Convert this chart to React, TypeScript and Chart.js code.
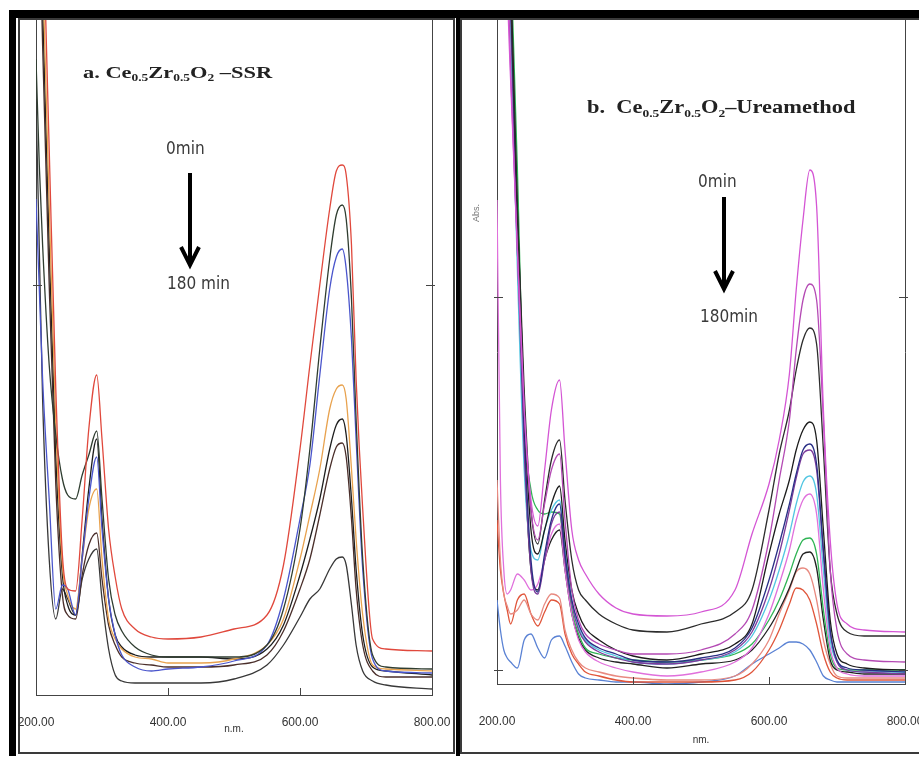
import React, { useEffect, useRef } from 'react';
import { Chart, registerables } from 'chart.js';

Chart.register(...registerables);

// ---------- Panel a : Ce0.5Zr0.5O2 – SSR ----------
const WL_A = [200, 205, 210, 220, 230, 240, 248, 260, 270, 280, 292, 300, 310, 320, 330, 350, 375, 400, 450, 500, 550, 575, 600, 615, 630, 645, 655, 664, 670, 678, 685, 695, 710, 730, 800];

const A_RED = [5.43, 4.68, 3.93, 2.68, 1.48, 0.65, 0.48, 0.47, 0.83, 1.28, 1.55, 1.23, 0.78, 0.54, 0.38, 0.28, 0.24, 0.23, 0.24, 0.28, 0.35, 0.60, 1.18, 1.60, 2.00, 2.38, 2.57, 2.60, 2.55, 2.20, 1.53, 0.88, 0.23, 0.18, 0.17];
const A_DKGREEN = [3.13, 2.60, 2.20, 1.60, 1.25, 1.03, 0.95, 0.93, 1.05, 1.15, 1.27, 0.93, 0.53, 0.35, 0.27, 0.19, 0.15, 0.14, 0.14, 0.14, 0.20, 0.38, 0.78, 1.18, 1.68, 2.13, 2.35, 2.40, 2.33, 1.93, 1.33, 0.63, 0.15, 0.09, 0.08];
const A_BLUE = [2.43, 1.98, 1.53, 0.93, 0.38, 0.50, 0.48, 0.35, 0.63, 0.93, 1.14, 0.78, 0.43, 0.25, 0.15, 0.09, 0.07, 0.08, 0.09, 0.12, 0.20, 0.43, 0.83, 1.10, 1.55, 1.98, 2.14, 2.18, 2.08, 1.73, 1.23, 0.58, 0.13, 0.07, 0.06];
const A_ORANGE = [5.00, 4.30, 3.60, 2.40, 1.30, 0.60, 0.45, 0.38, 0.63, 0.88, 0.98, 0.63, 0.33, 0.23, 0.18, 0.14, 0.13, 0.11, 0.11, 0.13, 0.20, 0.33, 0.63, 0.85, 1.08, 1.38, 1.48, 1.50, 1.43, 1.08, 0.73, 0.35, 0.10, 0.08, 0.07];
const A_BLACK1 = [4.80, 4.10, 3.40, 2.20, 1.15, 0.55, 0.40, 0.35, 0.65, 0.98, 1.23, 0.83, 0.43, 0.25, 0.19, 0.15, 0.14, 0.14, 0.14, 0.13, 0.18, 0.30, 0.55, 0.73, 0.93, 1.18, 1.30, 1.33, 1.25, 0.93, 0.58, 0.25, 0.09, 0.07, 0.05];
const A_BLACK2 = [4.60, 3.90, 3.20, 2.00, 1.00, 0.45, 0.35, 0.33, 0.55, 0.70, 0.76, 0.53, 0.30, 0.20, 0.14, 0.11, 0.10, 0.09, 0.09, 0.10, 0.15, 0.27, 0.48, 0.63, 0.85, 1.08, 1.19, 1.21, 1.14, 0.83, 0.48, 0.20, 0.07, 0.04, 0.04];
const A_180MIN = [2.93, 2.18, 1.43, 0.63, 0.33, 0.48, 0.43, 0.35, 0.53, 0.63, 0.68, 0.43, 0.18, 0.05, 0.02, 0.01, 0.01, 0.01, 0.01, 0.03, 0.10, 0.20, 0.34, 0.43, 0.48, 0.58, 0.63, 0.64, 0.60, 0.40, 0.20, 0.07, 0.02, 0.00, -0.02];

const A_SERIES = [A_RED, A_DKGREEN, A_BLUE, A_ORANGE, A_BLACK1, A_BLACK2, A_180MIN];
const A_COLORS = ['#e0483c', '#2f3d30', '#4a55cc', '#e8a24e', '#1e1e1e', '#4a2e2a', '#383838'];

// ---------- Panel b : Ce0.5Zr0.5O2 – Urea method ----------
const WL_B = [200, 205, 210, 215, 220, 230, 240, 250, 260, 270, 280, 292, 300, 310, 320, 330, 350, 375, 400, 450, 500, 550, 575, 600, 615, 630, 640, 650, 660, 670, 680, 690, 700, 715, 740, 800];

const B_MAGENTA = [6.00, 5.20, 4.30, 3.45, 2.95, 2.10, 1.30, 0.85, 0.72, 1.00, 1.30, 1.45, 1.10, 0.70, 0.55, 0.48, 0.38, 0.31, 0.28, 0.27, 0.29, 0.40, 0.68, 0.93, 1.15, 1.48, 1.90, 2.25, 2.50, 2.32, 1.30, 0.65, 0.33, 0.23, 0.20, 0.19];
const B_PURPLE1 = [5.90, 5.20, 4.40, 3.60, 3.00, 2.10, 1.30, 0.80, 0.65, 0.83, 1.00, 1.08, 0.75, 0.40, 0.25, 0.18, 0.13, 0.10, 0.08, 0.08, 0.10, 0.18, 0.30, 0.65, 0.95, 1.25, 1.60, 1.85, 1.93, 1.85, 1.25, 0.50, 0.20, 0.08, 0.05, 0.04];
const B_DARK1 = [6.00, 5.40, 4.70, 4.00, 3.40, 2.30, 1.40, 0.80, 0.63, 0.85, 1.05, 1.15, 0.85, 0.55, 0.40, 0.35, 0.28, 0.23, 0.20, 0.19, 0.23, 0.29, 0.40, 0.80, 1.08, 1.30, 1.50, 1.65, 1.71, 1.63, 1.10, 0.50, 0.28, 0.19, 0.17, 0.17];
const B_BLACK1 = [6.00, 5.40, 4.80, 4.20, 3.50, 2.30, 1.30, 0.70, 0.58, 0.70, 0.83, 0.92, 0.65, 0.40, 0.28, 0.21, 0.15, 0.10, 0.07, 0.05, 0.08, 0.13, 0.23, 0.58, 0.78, 0.95, 1.10, 1.20, 1.24, 1.15, 0.70, 0.25, 0.08, 0.03, 0.01, 0.00];
const B_NAVY = [5.90, 5.30, 4.70, 4.00, 3.40, 2.20, 1.20, 0.55, 0.39, 0.58, 0.75, 0.83, 0.58, 0.35, 0.23, 0.16, 0.11, 0.08, 0.05, 0.04, 0.06, 0.11, 0.21, 0.45, 0.63, 0.83, 0.98, 1.10, 1.13, 1.03, 0.60, 0.20, 0.05, 0.01, 0.00, -0.01];
const B_PURPLE2 = [5.80, 5.10, 4.50, 3.90, 3.30, 2.10, 1.10, 0.50, 0.38, 0.55, 0.73, 0.79, 0.55, 0.33, 0.20, 0.14, 0.09, 0.06, 0.04, 0.03, 0.05, 0.10, 0.19, 0.40, 0.58, 0.80, 0.96, 1.08, 1.10, 1.00, 0.58, 0.19, 0.04, 0.00, -0.01, -0.02];
const B_CYAN = [5.60, 5.00, 4.40, 3.80, 3.20, 2.00, 1.00, 0.60, 0.55, 0.70, 0.80, 0.85, 0.60, 0.35, 0.21, 0.15, 0.10, 0.07, 0.04, 0.03, 0.05, 0.09, 0.17, 0.35, 0.50, 0.68, 0.83, 0.94, 0.97, 0.88, 0.50, 0.15, 0.04, 0.00, -0.01, -0.01];
const B_PINK = [2.35, 0.95, 0.50, 0.38, 0.40, 0.48, 0.45, 0.40, 0.43, 0.55, 0.68, 0.73, 0.50, 0.28, 0.15, 0.09, 0.04, 0.01, -0.01, -0.03, -0.01, 0.04, 0.11, 0.28, 0.43, 0.60, 0.75, 0.85, 0.88, 0.78, 0.40, 0.11, 0.01, -0.02, -0.03, -0.03];
const B_GREEN = [6.00, 5.40, 4.80, 4.20, 3.60, 2.50, 1.25, 0.90, 0.80, 0.78, 0.79, 0.78, 0.55, 0.30, 0.18, 0.11, 0.08, 0.06, 0.05, 0.04, 0.05, 0.08, 0.13, 0.25, 0.35, 0.48, 0.58, 0.65, 0.66, 0.58, 0.30, 0.08, 0.01, 0.00, 0.00, 0.00];
const B_BLACK2 = [5.80, 5.20, 4.60, 4.00, 3.30, 2.10, 1.10, 0.50, 0.40, 0.55, 0.65, 0.70, 0.50, 0.28, 0.16, 0.10, 0.06, 0.04, 0.03, 0.01, 0.03, 0.05, 0.10, 0.21, 0.30, 0.41, 0.50, 0.58, 0.59, 0.51, 0.25, 0.05, 0.00, -0.01, -0.02, -0.02];
const B_SALMON = [0.95, 0.55, 0.38, 0.32, 0.28, 0.30, 0.35, 0.28, 0.25, 0.33, 0.38, 0.36, 0.20, 0.10, 0.04, 0.01, -0.01, -0.03, -0.04, -0.05, -0.05, -0.03, 0.03, 0.15, 0.28, 0.40, 0.49, 0.51, 0.48, 0.35, 0.15, 0.03, -0.03, -0.04, -0.04, -0.04];
const B_ORANGE = [0.75, 0.50, 0.38, 0.30, 0.23, 0.35, 0.38, 0.28, 0.22, 0.29, 0.35, 0.33, 0.18, 0.08, 0.03, -0.01, -0.03, -0.05, -0.06, -0.06, -0.06, -0.05, -0.01, 0.10, 0.20, 0.33, 0.41, 0.40, 0.35, 0.23, 0.08, -0.01, -0.04, -0.05, -0.05, -0.05];
const B_BLUE = [0.35, 0.20, 0.10, 0.06, 0.04, 0.01, 0.15, 0.18, 0.11, 0.06, 0.15, 0.17, 0.12, 0.04, -0.02, -0.04, -0.05, -0.06, -0.06, -0.07, -0.06, -0.03, 0.03, 0.08, 0.11, 0.14, 0.14, 0.13, 0.10, 0.04, -0.03, -0.05, -0.06, -0.06, -0.06, -0.06];

const B_SERIES = [B_MAGENTA, B_PURPLE1, B_DARK1, B_BLACK1, B_NAVY, B_PURPLE2, B_CYAN, B_PINK, B_GREEN, B_BLACK2, B_SALMON, B_ORANGE, B_BLUE];
const B_COLORS = ['#d455d4', '#b44ab4', '#2c2c2c', '#1c1c1c', '#2a2f86', '#7c3c9c', '#52c6e2', '#e070dc', '#2fb454', '#222222', '#e88a80', '#e0553a', '#5a82d4'];

const X_TICKS = [200, 400, 600, 800];

const tickMarks = {
  id: 'tickMarks',
  afterDraw(chart: any, _args: any, opts: any) {
    const { ctx, chartArea } = chart;
    const xs = chart.scales.x;
    const ys = chart.scales.y;
    ctx.save();
    ctx.strokeStyle = '#444';
    ctx.lineWidth = 1;
    ctx.beginPath();
    for (const v of opts.xTicks) {
      const px = Math.round(xs.getPixelForValue(v)) + 0.5;
      ctx.moveTo(px, chartArea.bottom);
      ctx.lineTo(px, chartArea.bottom - 7);
    }
    for (const v of opts.yTicks) {
      const py = Math.round(ys.getPixelForValue(v)) + 0.5;
      ctx.moveTo(chartArea.left - 3, py);
      ctx.lineTo(chartArea.left + 6, py);
      ctx.moveTo(chartArea.right - 6, py);
      ctx.lineTo(chartArea.right + 3, py);
    }
    ctx.stroke();
    ctx.restore();
  },
};

function makeConfig(p: any): any {
  const datasets = p.series.map((vals: number[], i: number) => ({
    data: p.wl.map((x: number, j: number) => ({ x, y: vals[j] })),
    borderColor: p.colors[i],
    borderWidth: 1.3,
    pointRadius: 0,
    cubicInterpolationMode: 'monotone',
    fill: false,
  }));
  const yBase = {
    type: 'linear',
    min: p.yMin,
    max: p.yMax,
    ticks: { display: false },
    grid: { display: false },
    border: { display: true, color: '#444', width: 1 },
    afterFit: (s: any) => { s.width = 0; },
  };
  return {
    type: 'line',
    data: { datasets },
    plugins: [tickMarks],
    options: {
      responsive: false,
      animation: false,
      events: [],
      layout: { padding: p.padding },
      plugins: {
        legend: { display: false },
        tooltip: { enabled: false },
        tickMarks: { xTicks: [400, 600], yTicks: p.yTicks },
      },
      scales: {
        x: {
          type: 'linear',
          min: 200,
          max: 800,
          afterBuildTicks: (s: any) => { s.ticks = X_TICKS.map((v) => ({ value: v })); },
          afterFit: (s: any) => { s.height = p.xHeight; s.paddingLeft = 0; s.paddingRight = 0; },
          ticks: {
            autoSkip: false,
            maxRotation: 0,
            padding: p.tickPad,
            color: '#333',
            font: { family: '"Liberation Sans", Arial, sans-serif', size: 12 },
            callback: (v: any) => Number(v).toFixed(2),
          },
          grid: { display: false, drawTicks: false },
          border: { display: true, color: '#444', width: 1 },
          title: {
            display: true,
            text: p.xTitle,
            color: '#333',
            font: { family: '"Liberation Sans", Arial, sans-serif', size: 10 },
            padding: { top: 0, bottom: p.titlePad },
          },
        },
        y: { ...yBase, position: 'left' },
        y2: { ...yBase, position: 'right' },
      },
    },
  };
}

function Spectrum(props: { cfg: any; left: number; top: number; width: number; height: number }) {
  const ref = useRef<HTMLCanvasElement>(null);
  useEffect(() => {
    const chart = new Chart(ref.current as HTMLCanvasElement, makeConfig(props.cfg));
    return () => chart.destroy();
  }, []);
  return (
    <canvas
      ref={ref}
      width={props.width}
      height={props.height}
      style={{ position: 'absolute', left: props.left, top: props.top, width: props.width, height: props.height }}
    />
  );
}

const box = (s: any) => ({ position: 'absolute' as const, boxSizing: 'border-box' as const, ...s });
const subS = { fontSize: '0.6em', verticalAlign: '-0.35em', lineHeight: 0 };
const serif = '"Liberation Serif", "Times New Roman", serif';
const cond = '"DejaVu Sans Condensed", "DejaVu Sans", sans-serif';
const labelStyle = (left: number, top: number) => ({
  position: 'absolute' as const,
  left,
  top,
  fontFamily: cond,
  fontStretch: 'condensed',
  fontSize: 17,
  lineHeight: '17px',
  color: '#3a3a3a',
  whiteSpace: 'nowrap' as const,
});

export default function App() {
  const cfgA = {
    wl: WL_A, series: A_SERIES, colors: A_COLORS,
    yMin: -0.05, yMax: 3.325, yTicks: [2.0],
    padding: { left: 18, top: 2, right: 22, bottom: 0 },
    xHeight: 57, tickPad: 20, xTitle: 'n.m.', titlePad: 17,
  };
  const cfgB = {
    wl: WL_B, series: B_SERIES, colors: B_COLORS,
    yMin: -0.07, yMax: 3.25, yTicks: [0, 1.865],
    padding: { left: 37, top: 2, right: 25, bottom: 0 },
    xHeight: 68, tickPad: 30, xTitle: 'nm.', titlePad: 6,
  };
  return (
    <div style={{ position: 'absolute', left: 0, top: 0, width: 919, height: 759, overflow: 'hidden', background: '#fff' }}>
      <div style={box({ left: 9, top: 10, width: 910, height: 8, background: '#000' })} />
      <div style={box({ left: 9, top: 10, width: 7, height: 746, background: '#000' })} />
      <div style={box({ left: 18, top: 18, width: 437, height: 736, border: '2px solid #3a3a3a' })} />
      <div style={box({ left: 456, top: 10, width: 4, height: 746, background: '#000' })} />
      <div style={box({ left: 460, top: 18, width: 480, height: 736, border: '2px solid #3a3a3a' })} />

      <Spectrum cfg={cfgA} left={18} top={18} width={436} height={734} />
      <Spectrum cfg={cfgB} left={460} top={18} width={470} height={734} />

      <div style={{ position: 'absolute', left: 83, top: 65, fontFamily: serif, fontWeight: 'bold', fontSize: 16, lineHeight: '16px', color: '#222', whiteSpace: 'nowrap', transform: 'scaleX(1.4)', transformOrigin: 'left top' }}>
        a. Ce<sub style={subS}>0.5</sub>Zr<sub style={subS}>0.5</sub>O<sub style={subS}>2</sub> –SSR
      </div>
      <div style={{ position: 'absolute', left: 587, top: 97, fontFamily: serif, fontWeight: 'bold', fontSize: 19, lineHeight: '19px', color: '#222', whiteSpace: 'pre', transform: 'scaleX(1.18)', transformOrigin: 'left top' }}>
        {'b.  Ce'}<sub style={subS}>0.5</sub>Zr<sub style={subS}>0.5</sub>O<sub style={subS}>2</sub>{'–Ureamethod'}
      </div>

      <div style={labelStyle(166, 140)}>0min</div>
      <div style={labelStyle(167, 275)}>180 min</div>
      <div style={labelStyle(698, 173)}>0min</div>
      <div style={labelStyle(700, 308)}>180min</div>

      <div style={{ position: 'absolute', left: 466, top: 208, width: 20, fontFamily: '"Liberation Sans", Arial, sans-serif', fontSize: 9, color: '#777', transform: 'rotate(-90deg)', transformOrigin: 'center', textAlign: 'center' }}>Abs.</div>

      <svg width={919} height={759} style={{ position: 'absolute', left: 0, top: 0, pointerEvents: 'none' }}>
        <line x1={190} y1={173} x2={190} y2={262} stroke="#000" strokeWidth={4} />
        <polyline points="181,247 190,265 199,247" stroke="#000" strokeWidth={4} fill="none" />
        <line x1={724} y1={197} x2={724} y2={286} stroke="#000" strokeWidth={4} />
        <polyline points="715,271 724,289 733,271" stroke="#000" strokeWidth={4} fill="none" />
      </svg>
    </div>
  );
}
